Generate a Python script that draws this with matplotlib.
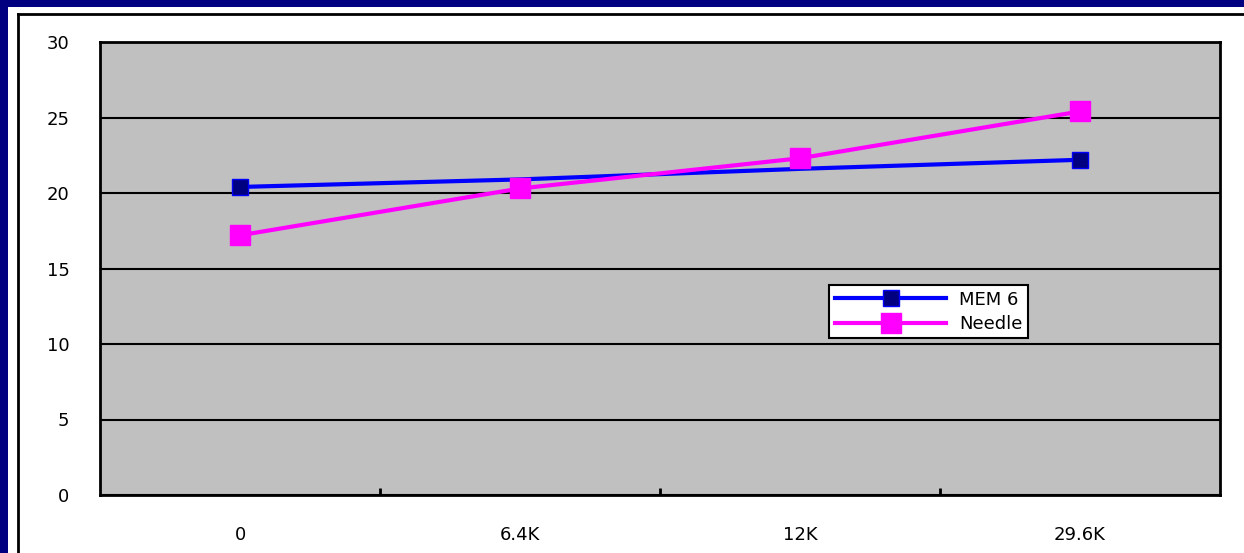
import numpy as np
import matplotlib
matplotlib.use('Agg')
import matplotlib.pyplot as plt
from matplotlib.patches import Rectangle
from matplotlib.lines import Line2D

categories = ['0', '6.4K', '12K', '29.6K']
mem6 = [20.4, 20.9, 21.6, 22.2]
needle = [17.2, 20.3, 22.3, 25.4]
y_ticks = [0, 5, 10, 15, 20, 25, 30]

W, H = 1244, 553
fig = plt.figure(figsize=(W / 100, H / 100), dpi=100)
fig.patch.set_facecolor('#000080')

# white chart sheet on the navy slide, with its thin black frame
fig.patches.append(Rectangle((8 / W, 0), 1, 1 - 7 / H, transform=fig.transFigure,
                             facecolor='white', edgecolor='none', zorder=-2))
fig.add_artist(Line2D([18 / W, 18 / W], [0, 1 - 14 / H], transform=fig.transFigure,
                      color='black', lw=2, zorder=-1))
fig.add_artist(Line2D([18 / W, 1], [1 - 14 / H, 1 - 14 / H], transform=fig.transFigure,
                      color='black', lw=2, zorder=-1))

ax = fig.add_axes([100 / W, (H - 495) / H, 1120 / W, (495 - 42) / H])
ax.set_zorder(2)
ax.set_facecolor('#c0c0c0')
x = np.arange(len(categories))

ax.plot(x, mem6, color='#0000ff', lw=3, marker='s', markevery=[0, 3],
        markersize=11, markerfacecolor='#000080', markeredgecolor='#0000ff',
        markeredgewidth=1, label='MEM 6', zorder=3)
ax.plot(x, needle, color='#ff00ff', lw=3, marker='s', markersize=15,
        markerfacecolor='#ff00ff', markeredgecolor='#ff00ff', label='Needle', zorder=4)

ax.set_xlim(-0.5, 3.5)
ax.set_ylim(0, 30)
ax.set_yticks(y_ticks)
ax.set_yticklabels([str(v) for v in y_ticks])
ax.set_xticks(x)
ax.set_xticklabels(categories)
ax.set_xticks(np.arange(0.5, 3.0, 1.0), minor=True)
ax.tick_params(axis='x', which='major', length=0, pad=22, labelsize=13)
ax.tick_params(axis='x', which='minor', direction='in', length=5, width=2, color='black')
ax.tick_params(axis='y', length=0, pad=22, labelsize=13)
ax.yaxis.grid(True, color='black', lw=1.5)
ax.set_axisbelow(True)
for s in ax.spines.values():
    s.set_color('black')
    s.set_linewidth(2)

leg = ax.legend(loc='upper left', bbox_to_anchor=(0.651, 0.463), fontsize=13,
                frameon=True, fancybox=False, handlelength=6.2, borderpad=0.3,
                labelspacing=0.35, handletextpad=0.7, borderaxespad=0)
leg.get_frame().set_edgecolor('black')
leg.get_frame().set_linewidth(1.5)
leg.get_frame().set_facecolor('white')
leg.get_frame().set_alpha(1)

fig.savefig('out.png', dpi=100, facecolor=fig.get_facecolor())
